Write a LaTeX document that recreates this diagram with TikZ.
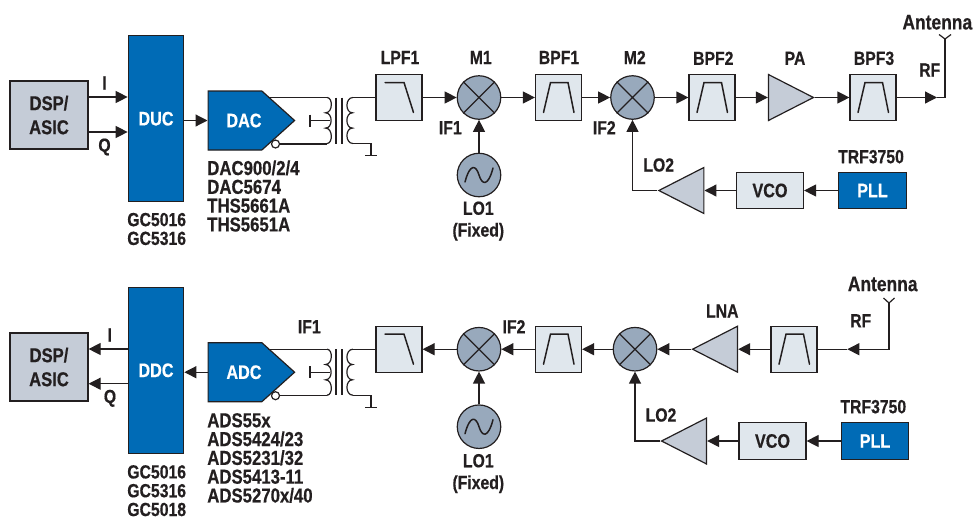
\documentclass[tikz,border=0pt]{standalone}
\usepackage{fontspec}
\setmainfont[FakeStretch=0.83,BoldFeatures={FakeBold=0.5}]{Liberation Sans}
\usetikzlibrary{arrows.meta,shapes.geometric,shapes.symbols}
\definecolor{ink}{HTML}{231F20}
\definecolor{tiblue}{HTML}{006BB6}
\definecolor{dspgray}{HTML}{C5CCD7}
\definecolor{boxpale}{HTML}{E0E7ED}
\definecolor{mixgray}{HTML}{98A9BC}
\begin{document}
\begin{tikzpicture}[x=1pt,y=-1pt,
        line width=1.2pt, draw=ink,
        lbl/.style = {font=\fontsize{19}{18.8}\selectfont\bfseries, text=ink, inner sep=0pt, align=center},
        lst/.style = {lbl, align=left, anchor=west, font=\fontsize{20.2}{18.8}\selectfont\bfseries},
        antlbl/.style = {lbl, font=\fontsize{21}{18.8}\selectfont\bfseries},
        blue/.style = {draw=ink, fill=tiblue, text=white, inner sep=0pt, font=\fontsize{19.5}{20}\selectfont\bfseries},
        dspbox/.style = {draw=ink, fill=dspgray, text=ink, inner sep=0pt, align=center, minimum width=78pt, minimum height=68pt, font=\fontsize{20}{24}\selectfont\bfseries},
        filt/.style = {draw=ink, fill=boxpale, inner sep=0pt, minimum size=46pt},
        pale/.style = {draw=ink, fill=boxpale, text=ink, inner sep=0pt, minimum width=67pt, minimum height=36.7pt, font=\fontsize{19.5}{20}\selectfont\bfseries},
        mix/.style = {circle, draw=ink, fill=mixgray, inner sep=0pt, minimum size=43.5pt},
        amp/.style = {isosceles triangle, isosceles triangle stretches, draw=ink, fill=dspgray, inner sep=0pt, minimum width=46pt, minimum height=45pt, anchor=apex},
        conv/.style = {signal, signal to=east, signal pointer angle=84, draw=ink, fill=tiblue, text=white, inner sep=0pt, minimum width=86.5pt, minimum height=59pt, anchor=west, font=\fontsize{19.5}{20}\selectfont\bfseries},
        bubble/.style = {circle, draw=ink, fill=white, inner sep=0pt, minimum size=8pt},
        flow/.style = {-{Triangle[length=12pt,width=12pt]}},
        glyph/.style = {line width=1.5pt, line cap=round},
        pics/xfmr/.style = {code={
            \coordinate (-p) at (327,0);
            \coordinate (-q) at (327,46);
            \coordinate (-s) at (353,0);
            \coordinate (-g) at (353,46);
            \coordinate (-tap) at (330,23);
            \coordinate (-bar) at (310,23);
            \draw (-p) .. controls (333,0) and (333,15.3) .. (325.5,15.3)
                .. controls (333,15.3) and (333,30.6) .. (325.5,30.6)
                .. controls (333,30.6) and (333,46) .. (-q);
            \draw (-s) .. controls (345,0) and (345,15.3) .. (352.5,15.3)
                .. controls (345,15.3) and (345,30.6) .. (352.5,30.6)
                .. controls (345,30.6) and (345,46) .. (-g);
            \draw (336,0) -- (336,46) (342,0) -- (342,46);
            \draw (-bar) -- (-tap);
            \draw (310,17) -- (310,29);
            \draw (-g) -- (371,46) -- (371,58);
            \draw (365,58) -- (377,58);
        }}
    ]
    \useasboundingbox (0,0) rectangle (973,517);

    % transmit chain
    \node[dspbox] (dsptx) at (49,115) {DSP/\\ASIC};
    \node[blue, minimum width=55.5pt, minimum height=166pt] (duc) at (156,118.7) {\raisebox{-1.5pt}{DUC}};
    \node[conv] (dac) at (207.5,120.5) {\hspace*{18pt}DAC};
    \node[bubble] (dacn) at (275.5,144) {};
    \pic (xt) at (0,97.5) {xfmr};
    \coordinate (dacp) at ([shift={(60.5,-23)}]dac.west);
    \node[filt] (lpft) at (399,97.5) {};
    \node[mix] (mta) at (479,97.5) {};
    \node[filt] (bpfa) at (558.5,97.5) {};
    \node[mix] (mtb) at (632.5,97.5) {};
    \node[filt] (bpfb) at (712,97.5) {};
    \node[amp] (pa) at (815,97.5) {};
    \node[filt] (bpfc) at (873,97.5) {};
    \node[mix] (lota) at (479,175) {};
    \node[amp, shape border rotate=180] (lotb) at (657.3,190.5) {};
    \node[pale] (vcot) at (770,190.5) {VCO};
    \node[blue, minimum width=67.5pt, minimum height=36.7pt] (pllt) at (872.5,190.5) {PLL};
    \coordinate (rft) at (937,97.5);
    \coordinate (antt) at (945,39);

    \draw[flow] ([yshift=18pt]dsptx.east) -- ([yshift=18pt]dsptx.east -| duc.west);
    \draw[flow] ([yshift=-17pt]dsptx.east) -- ([yshift=-17pt]dsptx.east -| duc.west);
    \draw[flow] (dac.west -| duc.east) -- (dac.west);
    \draw (dacp) -- (xt-p);
    \draw (dacn) -- (dacn -| xt-q);
    \draw (xt-s) -- (lpft);
    \draw[flow] (lpft) -- (mta);
    \draw[flow] (mta) -- (bpfa);
    \draw[flow] (bpfa) -- (mtb);
    \draw[flow] (mtb) -- (bpfb);
    \draw[flow] (bpfb) -- (pa.lower side);
    \draw[flow] (pa.apex) -- (bpfc);
    \draw[flow] (bpfc) -- (rft);
    \draw (rft) -| (antt);
    \draw (antt) -- +(-6,-4.5) (antt) -- +(6,-4.5);
    \draw[flow] (lota) -- (mta);
    \draw[flow] (pllt) -- (vcot);
    \draw[flow] (vcot) -- (lotb.lower side);
    \draw[flow] (lotb.apex) -| (mtb.south);

    % receive chain
    \node[dspbox] (dsprx) at (49,367) {DSP/\\ASIC};
    \node[blue, minimum width=55.5pt, minimum height=166pt] (ddc) at (156,370.3) {\raisebox{-1.5pt}{DDC}};
    \node[conv] (adc) at (207.5,372.2) {\hspace*{18pt}ADC};
    \node[bubble] (adcn) at (275.5,395.7) {};
    \pic (xr) at (0,349.2) {xfmr};
    \coordinate (adcp) at ([shift={(60.5,-23)}]adc.west);
    \node[filt] (lpfr) at (399,349.2) {};
    \node[mix] (mra) at (479,349.2) {};
    \node[filt] (bpfd) at (558.5,349.2) {};
    \node[mix] (mrb) at (635,349.2) {};
    \node[amp, shape border rotate=180] (lna) at (691,349.2) {};
    \node[filt] (bpfe) at (794,349.2) {};
    \node[mix] (lora) at (479,426.7) {};
    \node[amp, shape border rotate=180] (lorb) at (660,441) {};
    \node[pale] (vcor) at (772.5,441) {VCO};
    \node[blue, minimum width=67.5pt, minimum height=36.7pt] (pllr) at (875,441) {PLL};
    \coordinate (rfr) at (847.3,349.2);
    \coordinate (antr) at (889,303);

    \draw[flow] ([yshift=18pt]dsprx.east -| ddc.west) -- ([yshift=18pt]dsprx.east);
    \draw[flow] ([yshift=-16.7pt]dsprx.east -| ddc.west) -- ([yshift=-16.7pt]dsprx.east);
    \draw[flow] (adc.west) -- (adc.west -| ddc.east);
    \draw (adcp) -- (xr-p);
    \draw (adcn) -- (adcn -| xr-q);
    \draw (xr-s) -- (lpfr);
    \draw[flow] (mra) -- (lpfr);
    \draw[flow] (bpfd) -- (mra);
    \draw[flow] (mrb) -- (bpfd);
    \draw[flow] (lna.apex) -- (mrb);
    \draw[flow] (bpfe) -- (lna.lower side);
    \draw (rfr) -- (bpfe);
    \draw[flow] (antr) |- (rfr);
    \draw (antr) -- +(-5.5,-5) (antr) -- +(5.5,-5);
    \draw[flow] (lora) -- (mra);
    \draw[flow] (pllr) -- (vcor);
    \draw[flow] (vcor) -- (lorb.lower side);
    \draw[flow] (lorb.apex) -| (mrb.south);

    % glyphs inside the blocks
    \foreach \m in {mta,mtb,mra,mrb} {
        \draw (\m.45) -- (\m.225) (\m.135) -- (\m.315);
    }
    \foreach \f in {lpft,lpfr} {
        \draw[glyph] ([shift={(-14,-15)}]\f.center) -- ([shift={(5,-15)}]\f.center) -- ([shift={(14.5,15)}]\f.center);
    }
    \foreach \f in {bpfa,bpfb,bpfc,bpfd,bpfe} {
        \draw[glyph] ([shift={(-15,15)}]\f.center) -- ([shift={(-8,-15)}]\f.center) -- ([shift={(9.5,-15)}]\f.center) -- ([shift={(15.5,15)}]\f.center);
    }
    \foreach \o in {lota,lora} {
        \draw[glyph] ([shift={(-14,7)}]\o.center) .. controls ([shift={(-9,-12)}]\o.center) and ([shift={(-3,-10)}]\o.center) .. (\o.center) .. controls ([shift={(3,10)}]\o.center) and ([shift={(9,12)}]\o.center) .. ([shift={(14,-7)}]\o.center);
    }

    % labels
    \node[lbl] (ltxi) at (104.5,83) {I};
    \node[lbl] (ltxq) at (104.5,147) {Q};
    \node[lbl] (lgct) at (156.7,229) {GC5016\\GC5316};
    \node[lst] (ldac) at (206.7,196) {DAC900/2/4\\DAC5674\\THS5661A\\THS5651A};
    \node[lbl] (llpf) at (400,57.5) {LPF1};
    \node[lbl] (lma) at (480.7,57.5) {M1};
    \node[lbl] (lbpa) at (559,57.5) {BPF1};
    \node[lbl] (lmb) at (634.7,57.5) {M2};
    \node[lbl] (lifa) at (450.3,127.7) {IF1};
    \node[lbl] (lifb) at (604.3,127.7) {IF2};
    \node[lbl] (lloa) at (478.3,221) {LO1\\[3pt](Fixed)};
    \node[lbl] (llob) at (658.7,165) {LO2};
    \node[lbl] (lbpb) at (713.3,58.3) {BPF2};
    \node[lbl] (lpa) at (795,58.3) {PA};
    \node[lbl] (lbpc) at (874,58.3) {BPF3};
    \node[lbl] (lrft) at (929.7,70) {RF};
    \node[antlbl] (lant) at (937.3,22.3) {Antenna};
    \node[lbl] (ltrf) at (871,156.7) {TRF3750};

    \node[lbl] (lrxi) at (109.7,335) {I};
    \node[lbl] (lrxq) at (110,398.3) {Q};
    \node[lbl] (lgcr) at (156.7,490.7) {GC5016\\GC5316\\GC5018};
    \node[lst] (ladc) at (206.7,458) {ADS55x\\ADS5424/23\\ADS5231/32\\ADS5413-11\\ADS5270x/40};
    \node[lbl] (lifc) at (309.3,326.7) {IF1};
    \node[lbl] (lifd) at (514,326.7) {IF2};
    \node[lbl] (lloc) at (478.3,473.5) {LO1\\[3pt](Fixed)};
    \node[lbl] (llod) at (661,415) {LO2};
    \node[lbl] (llna) at (722.3,311) {LNA};
    \node[lbl] (lrfr) at (860.7,320.7) {RF};
    \node[antlbl] (lanr) at (882.7,284) {Antenna};
    \node[lbl] (ltrr) at (873.3,406.7) {TRF3750};
\end{tikzpicture}
\end{document}
